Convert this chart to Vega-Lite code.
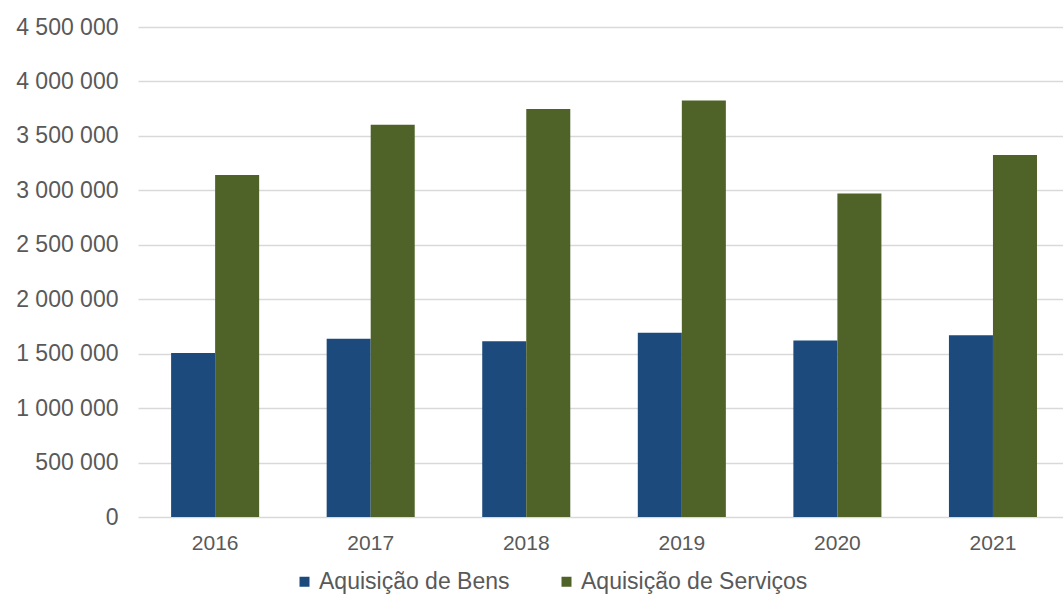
{
  "$schema": "https://vega.github.io/schema/vega-lite/v6.json",
  "width": 925,
  "height": 490,
  "autosize": {"type": "none"},
  "padding": {"left": 138, "top": 27, "right": 0, "bottom": 93},
  "background": "white",
  "config": {
    "locale": {"number": {"decimal": ",", "thousands": " ", "grouping": [3], "currency": ["", ""]}},
    "view": {"stroke": null},
    "font": "Liberation Sans"
  },
  "data": {
    "values": [
      {"ano": "2016", "serie": "Aquisição de Bens", "valor": 1507000},
      {"ano": "2016", "serie": "Aquisição de Serviços", "valor": 3140000},
      {"ano": "2017", "serie": "Aquisição de Bens", "valor": 1636000},
      {"ano": "2017", "serie": "Aquisição de Serviços", "valor": 3603000},
      {"ano": "2018", "serie": "Aquisição de Bens", "valor": 1614000},
      {"ano": "2018", "serie": "Aquisição de Serviços", "valor": 3748000},
      {"ano": "2019", "serie": "Aquisição de Bens", "valor": 1692000},
      {"ano": "2019", "serie": "Aquisição de Serviços", "valor": 3824000},
      {"ano": "2020", "serie": "Aquisição de Bens", "valor": 1621000},
      {"ano": "2020", "serie": "Aquisição de Serviços", "valor": 2971000},
      {"ano": "2021", "serie": "Aquisição de Bens", "valor": 1669000},
      {"ano": "2021", "serie": "Aquisição de Serviços", "valor": 3324000}
    ]
  },
  "mark": {"type": "bar"},
  "encoding": {
    "x": {
      "field": "ano", "type": "nominal",
      "scale": {"paddingInner": 0.434, "paddingOuter": 0.19, "align": 0.56},
      "axis": {"title": null, "labelAngle": 0, "domain": false, "ticks": false, "labelPadding": 15, "labelFontSize": 21, "labelColor": "#595959", "labelFont": "Liberation Sans", "labelFontWeight": "normal"}
    },
    "xOffset": {"field": "serie", "type": "nominal", "scale": {"paddingInner": 0, "paddingOuter": 0}},
    "y": {
      "field": "valor", "type": "quantitative",
      "scale": {"domain": [0, 4500000], "nice": false},
      "axis": {"title": null, "values": [0, 500000, 1000000, 1500000, 2000000, 2500000, 3000000, 3500000, 4000000, 4500000], "format": ",d", "domain": false, "ticks": false, "labelPadding": 20, "labelFontSize": 23, "labelColor": "#595959", "labelFont": "Liberation Sans", "gridColor": "#d9d9d9", "gridWidth": 1.5}
    },
    "color": {
      "field": "serie", "type": "nominal",
      "scale": {"domain": ["Aquisição de Bens", "Aquisição de Serviços"], "range": ["#1d4a7c", "#4f6228"]},
      "legend": {"title": null, "orient": "none", "legendX": 155, "legendY": 543, "direction": "horizontal", "symbolType": "square", "symbolSize": 100, "symbolStrokeWidth": 0, "labelFontSize": 23, "labelLimit": 400, "labelColor": "#595959", "labelFont": "Liberation Sans", "columnPadding": 45, "labelOffset": 3}
    }
  }
}
